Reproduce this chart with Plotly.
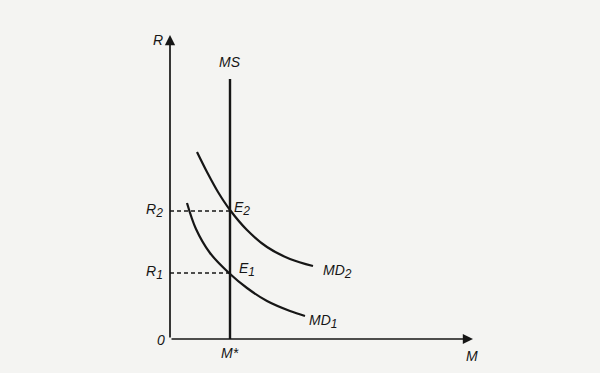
import plotly.graph_objects as go

# Data (in chart units; origin at the axes' corner)
M_star = 60
R1 = 66
R2 = 128
MS_top = 260
md1_x = [17, 26, 40, 59, 77, 97, 120, 135]
md1_y = [136, 110, 86, 66, 51, 38, 28, 23]
md2_x = [27, 37, 48, 60, 77, 97, 120, 143]
md2_y = [187, 167, 147, 129, 109, 92, 80, 73]
y_axis_top = 304
x_axis_end = 303

ink = "#161616"
bg = "#f4f4f2"
font = dict(family="Liberation Sans, Arial, sans-serif", size=14, color=ink)

fig = go.Figure()

# Money supply (vertical)
fig.add_trace(go.Scatter(x=[M_star, M_star], y=[0, MS_top], mode="lines",
                         line=dict(color=ink, width=2.4), hoverinfo="skip"))
# Money demand curves
fig.add_trace(go.Scatter(x=md1_x, y=md1_y, mode="lines", line_shape="spline",
                         line=dict(color=ink, width=2.2, smoothing=1.0), hoverinfo="skip"))
fig.add_trace(go.Scatter(x=md2_x, y=md2_y, mode="lines", line_shape="spline",
                         line=dict(color=ink, width=2.2, smoothing=1.0), hoverinfo="skip"))
# Dashed guides
for r in (R1, R2):
    fig.add_trace(go.Scatter(x=[0, M_star], y=[r, r], mode="lines",
                             line=dict(color=ink, width=1.4, dash="4px,3px"), hoverinfo="skip"))

annotations = []
# Axes with arrows
annotations.append(dict(x=0, y=y_axis_top, ax=0, ay=0, xref="x", yref="y", axref="x", ayref="y",
                        showarrow=True, arrowhead=2, arrowsize=1.2, arrowwidth=1.7,
                        arrowcolor=ink, text=""))
annotations.append(dict(x=x_axis_end, y=0, ax=0, ay=0, xref="x", yref="y", axref="x", ayref="y",
                        showarrow=True, arrowhead=2, arrowsize=1.2, arrowwidth=1.7,
                        arrowcolor=ink, text=""))

def sub(s):
    return '<sub><span style="font-size:12px">' + s + '</span></sub>'

def lab(text, x, y, xanchor="center", yanchor="middle"):
    annotations.append(dict(x=x, y=y, xref="x", yref="y", text=text, showarrow=False,
                            xanchor=xanchor, yanchor=yanchor, font=font))

lab("<i>R</i>", -12, 299)
lab("<i>MS</i>", M_star, 277)
lab("<i>R</i>" + sub("<i>2</i>"), -5, R2 + 1, xanchor="right")
lab("<i>R</i>" + sub("<i>1</i>"), -5, R1 + 1, xanchor="right")
lab("<i>E</i>" + sub("<i>2</i>"), 62, 131, xanchor="left")
lab("<i>E</i>" + sub("<i>1</i>"), 67, 70, xanchor="left")
lab("<i>MD</i>" + sub("<i>2</i>"), 151, 68, xanchor="left")
lab("<i>MD</i>" + sub("<i>1</i>"), 137, 18, xanchor="left")
lab("<i>0</i>", -9, -1)
lab("<i>M*</i>", M_star, -14)
lab("<i>M</i>", 302, -17)

fig.update_layout(
    width=600, height=373,
    margin=dict(l=0, r=0, t=0, b=0),
    paper_bgcolor=bg, plot_bgcolor=bg,
    showlegend=False,
    annotations=annotations,
    xaxis=dict(range=[-170, 430], visible=False, fixedrange=True),
    yaxis=dict(range=[-34, 339], visible=False, fixedrange=True),
)

fig.write_html("out.html")
